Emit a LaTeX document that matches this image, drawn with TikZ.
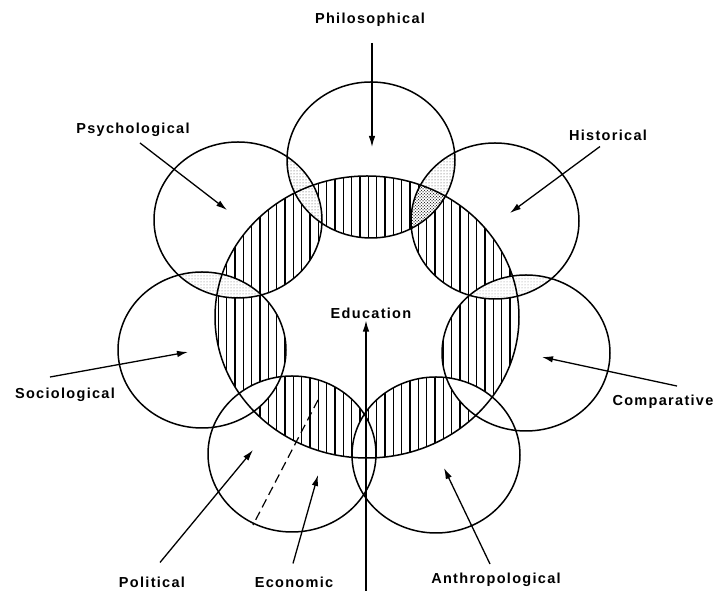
\documentclass[tikz,border=0pt]{standalone}
\usepackage{fontspec}
\setmainfont{Liberation Sans}[LetterSpace=9]
\usetikzlibrary{arrows.meta,patterns}

\begin{document}
\begin{tikzpicture}
[
	x=1pt,y=1pt,
	ring/.style={x radius=84,y radius=78},
	hub/.style={x radius=152,y radius=141},
	rim/.style={line width=1.5pt},
	lbl/.style={font=\fontsize{14.5}{17}\selectfont\bfseries,inner sep=2pt},
	pointer/.style={line width=1.3pt,-{Latex[length=11pt,width=6.5pt]}},
	stipple/.style={pattern=dots,pattern color=black!75}
]

	\useasboundingbox (0,0) rectangle (724,591);

	% centres of the fields
	\coordinate (centre) at (367,274);
	\coordinate (cphil) at (371,431);
	\coordinate (chist) at (495,370);
	\coordinate (ccomp) at (526,238);
	\coordinate (canth) at (436,136);
	\coordinate (cecon) at (292,137);
	\coordinate (csoc) at (202,241);
	\coordinate (cpsych) at (238,371);

	% hatching where education meets one field only
	\begin{scope}
		\clip (centre) ellipse [hub];
		\foreach \x in {210,218.33,...,526}
			\draw[line width=1.4pt] (\x,120) -- (\x,430);
		\fill[white,even odd rule] (centre) ellipse [hub]
			(cphil) ellipse [ring] (chist) ellipse [ring] (ccomp) ellipse [ring]
			(canth) ellipse [ring] (cecon) ellipse [ring] (csoc) ellipse [ring]
			(cpsych) ellipse [ring];
	\end{scope}

	% stippled overlaps
	\begin{scope}
		\clip (cpsych) ellipse [ring];
		\fill[stipple] (cphil) ellipse [ring];
	\end{scope}
	\begin{scope}
		\clip (cphil) ellipse [ring];
		\clip (chist) ellipse [ring];
		\fill[stipple] (chist) ellipse [ring];
		\fill[pattern=crosshatch dots] (centre) ellipse [hub];
	\end{scope}
	\begin{scope}
		\clip (chist) ellipse [ring];
		\fill[stipple,pattern color=black!45] (ccomp) ellipse [ring];
	\end{scope}
	\begin{scope}
		\clip (csoc) ellipse [ring];
		\fill[stipple,pattern color=black!55] (cpsych) ellipse [ring];
	\end{scope}

	% political / economic split
	\coordinate (splittop) at (318,191);
	\coordinate (splitbot) at (253,66);
	\draw[line width=1.2pt,dash pattern=on 9pt off 5pt] (splittop) -- (splitbot);

	\draw[rim] (centre) ellipse [hub];
	\draw[rim] (cphil) ellipse [ring];
	\draw[rim] (chist) ellipse [ring];
	\draw[rim] (ccomp) ellipse [ring];
	\draw[rim] (canth) ellipse [ring];
	\draw[rim] (cecon) ellipse [ring];
	\draw[rim] (csoc) ellipse [ring];
	\draw[rim] (cpsych) ellipse [ring];

	% labels
	\node[lbl] at (370,571) (philo) {Philosophical};
	\node[lbl] at (133,461) (psych) {Psychological};
	\node[lbl] at (608,456) (hist) {Historical};
	\node[lbl] at (65,196) (soci) {Sociological};
	\node[lbl] at (663,189) (compar) {Comparative};
	\node[lbl] at (152,9) (polit) {Political};
	\node[lbl] at (294,9) (econ) {Economic};
	\node[lbl] at (496,11) (anthro) {Anthropological};
	\node[lbl] at (371,278) (educ) {Education};

	% arrow tips
	\coordinate (philtip) at (372,444);
	\coordinate (psychtip) at (227,381);
	\coordinate (histtip) at (510,378);
	\coordinate (soctip) at (188,239);
	\coordinate (comptip) at (542,234);
	\coordinate (poltip) at (253,141);
	\coordinate (econtip) at (318,116);
	\coordinate (anthtip) at (444,123);
	\coordinate (edubase) at (366,0);

	\draw[pointer] ([shift={(2,-14)}]philo.south) -- (philtip);
	\draw[pointer] ([shift={(7,-4)}]psych.south) -- (psychtip);
	\draw[pointer] ([shift={(-8,-4)}]hist.south) -- (histtip);
	\draw[pointer] ([shift={(-15,9)}]soci.north) -- (soctip);
	\draw[pointer] ([shift={(14,7)}]compar.north) -- (comptip);
	\draw[pointer] ([shift={(8,12)}]polit.north) -- (poltip);
	\draw[pointer] ([shift={(-1,11)}]econ.north) -- (econtip);
	\draw[pointer] ([shift={(-6,7)}]anthro.north) -- (anthtip);
	\draw[pointer] (edubase) -- (edubase |- educ.south);

\end{tikzpicture}
\end{document}
